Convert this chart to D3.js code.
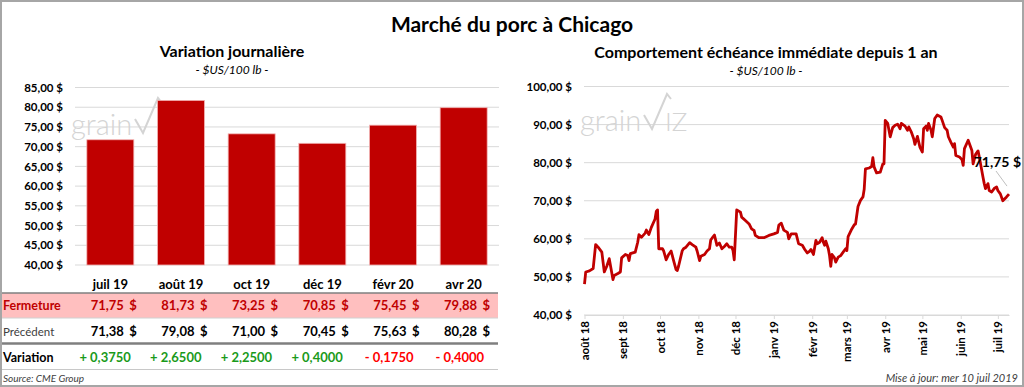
<!DOCTYPE html>
<html>
<head>
<meta charset="utf-8">
<script src="https://cdn.jsdelivr.net/npm/d3@7"></script>
<style>
  body { margin: 0; background: #fff; }
  svg { display: block; font-family: Lato, "Open Sans", sans-serif; }
</style>
</head>
<body>
<script>
// contracts (left panel)
const contracts = ["juil 19", "août 19", "oct 19", "déc 19", "févr 20", "avr 20"];
const closes = [71.75, 81.73, 73.25, 70.85, 75.45, 79.88];
const previous = [71.38, 79.08, 71.00, 70.45, 75.63, 80.28];
const changes = [0.375, 2.65, 2.25, 0.4, -0.175, -0.4];
const barTicks = [40, 45, 50, 55, 60, 65, 70, 75, 80, 85];

// nearby contract, last 12 months (right panel)
const monthLabels = ["août 18", "sept 18", "oct 18", "nov 18", "déc 18", "janv 19", "févr 19", "mars 19", "avr 19", "mai 19", "juin 19", "juil 19"];
const lineTicks = [40, 50, 60, 70, 80, 90, 100];
const histDates = [
  "2018-08-01","2018-08-02","2018-08-05","2018-08-08","2018-08-10","2018-08-12","2018-08-15","2018-08-17","2018-08-19","2018-08-21",
  "2018-08-24","2018-08-25","2018-08-28","2018-08-30","2018-08-31","2018-09-03","2018-09-05","2018-09-06","2018-09-07","2018-09-11",
  "2018-09-13","2018-09-14","2018-09-16","2018-09-19","2018-09-20","2018-09-22","2018-09-24","2018-09-27","2018-09-28","2018-09-29",
  "2018-09-30","2018-10-03","2018-10-04","2018-10-06","2018-10-08","2018-10-10","2018-10-12","2018-10-14","2018-10-15","2018-10-16",
  "2018-10-19","2018-10-20","2018-10-22","2018-10-25","2018-10-27","2018-10-30","2018-10-31","2018-11-02","2018-11-03","2018-11-06",
  "2018-11-08","2018-11-10","2018-11-11","2018-11-13","2018-11-14","2018-11-16","2018-11-18","2018-11-20","2018-11-22","2018-11-24",
  "2018-11-26","2018-11-28","2018-11-29","2018-11-30","2018-12-02","2018-12-05","2018-12-06","2018-12-09","2018-12-12","2018-12-14",
  "2018-12-16","2018-12-17","2018-12-20","2018-12-24","2018-12-28","2019-01-01","2019-01-04","2019-01-05","2019-01-07","2019-01-09",
  "2019-01-12","2019-01-13","2019-01-15","2019-01-19","2019-01-21","2019-01-24","2019-01-26","2019-01-28","2019-01-30","2019-01-31",
  "2019-02-02","2019-02-04","2019-02-05","2019-02-07","2019-02-09","2019-02-10","2019-02-11","2019-02-12","2019-02-14","2019-02-15",
  "2019-02-16","2019-02-17","2019-02-19","2019-02-20","2019-02-22","2019-02-24","2019-02-26","2019-02-28","2019-03-01","2019-03-02",
  "2019-03-05","2019-03-07","2019-03-08","2019-03-10","2019-03-12","2019-03-14","2019-03-15","2019-03-16","2019-03-19","2019-03-21",
  "2019-03-22","2019-03-23","2019-03-25","2019-03-28","2019-03-30","2019-03-31","2019-04-01","2019-04-03","2019-04-05","2019-04-07",
  "2019-04-09","2019-04-11","2019-04-13","2019-04-14","2019-04-17","2019-04-19","2019-04-20","2019-04-22","2019-04-24","2019-04-25",
  "2019-04-27","2019-04-29","2019-05-01","2019-05-02","2019-05-04","2019-05-05","2019-05-06","2019-05-08","2019-05-09","2019-05-11",
  "2019-05-13","2019-05-16","2019-05-17","2019-05-19","2019-05-21","2019-05-22","2019-05-24","2019-05-26","2019-05-27","2019-05-28",
  "2019-05-31","2019-06-02","2019-06-03","2019-06-04","2019-06-07","2019-06-09","2019-06-10","2019-06-11","2019-06-13","2019-06-15",
  "2019-06-16","2019-06-17","2019-06-19","2019-06-20","2019-06-21","2019-06-23","2019-06-24","2019-06-26","2019-06-28","2019-06-30",
  "2019-07-01","2019-07-03","2019-07-05","2019-07-08","2019-07-10"
];
const histValues = [
  48.1, 51.3, 51.6, 52.2, 58.5, 57.8, 56.5, 51.3, 52.8, 54.8,
  49.3, 50.4, 50.9, 51.3, 55.0, 55.9, 55.6, 54.3, 56.1, 56.5,
  59.1, 61.1, 60.4, 61.5, 62.3, 61.1, 63.0, 65.2, 67.2, 67.6,
  57.4, 57.4, 56.8, 54.5, 55.9, 56.8, 54.3, 51.9, 51.7, 52.8,
  56.9, 57.4, 57.8, 59.0, 58.5, 57.8, 56.8, 54.3, 55.4, 55.9,
  56.8, 57.4, 59.7, 60.6, 61.0, 58.3, 58.9, 57.4, 58.0, 58.7,
  57.8, 57.8, 56.9, 54.5, 67.6, 67.0, 65.7, 64.8, 63.9, 62.6,
  62.2, 60.9, 60.3, 60.3, 60.9, 61.3, 61.7, 63.6, 64.1, 62.3,
  61.7, 60.0, 61.3, 61.3, 58.7, 58.3, 57.2, 56.3, 56.8, 57.2,
  55.9, 59.6, 58.7, 59.1, 60.3, 59.1, 58.3, 59.4, 57.4, 55.6,
  52.8, 55.9, 55.0, 53.9, 55.2, 55.6, 56.5, 57.4, 56.9, 60.6,
  62.6, 63.7, 63.9, 68.5, 70.1, 71.0, 73.0, 78.4, 78.6, 79.0,
  81.3, 78.9, 77.3, 77.5, 79.6, 79.7, 91.1, 90.3, 86.8, 89.2,
  89.8, 90.1, 88.9, 90.3, 89.6, 88.5, 89.4, 88.1, 86.3, 84.8,
  86.9, 84.1, 82.8, 88.9, 89.6, 88.5, 90.3, 88.5, 86.8, 91.6,
  92.5, 92.0, 91.1, 89.2, 88.5, 86.8, 85.4, 84.1, 85.0, 81.9,
  81.5, 80.8, 79.3, 83.7, 85.9, 84.1, 83.2, 79.7, 82.2, 83.1,
  81.5, 79.7, 76.2, 74.5, 73.2, 74.5, 72.7, 72.3, 73.2, 73.6,
  72.7, 71.8, 70.0, 71.0, 71.75
];
const lastLabel = "71,75 $";

const width = 1024;
const height = 387;
const red = "#c00000";
const gridColor = "#d9d9d9";

const fr = d3.formatLocale({ decimal: ",", thousands: " ", grouping: [3], currency: ["", " $"] });
const money = fr.format(".2f");
const moneyTick = v => money(v) + " $";
const signed = v => (v >= 0 ? "+ " : "- ") + fr.format(".4f")(Math.abs(v));

const svg = d3.select("body").append("svg")
    .attr("width", width)
    .attr("height", height);

svg.append("rect")
    .attr("x", 1).attr("y", 1)
    .attr("width", width - 2).attr("height", height - 2)
    .attr("fill", "#fff")
    .attr("stroke", "#a6a6a6")
    .attr("stroke-width", 2);

svg.append("text")
    .attr("x", 512).attr("y", 32)
    .attr("text-anchor", "middle")
    .style("font-size", "21px").style("font-weight", "bold")
    .text("Marché du porc à Chicago");

// watermark helper
function watermark(g, x, y, withIz) {
    g.append("text")
        .attr("x", x).attr("y", y)
        .attr("fill", "#d4d4d4")
        .style("font-size", "29px")
        .style("font-weight", 300)
        .text("grain");
    g.append("path")
        .attr("d", `M${x + 64},${y - 16} L${x + 72},${y - 2} L${x + 87},${y - 37} L${x + 91},${y - 32}`)
        .attr("fill", "none")
        .attr("stroke", "#d4d4d4")
        .attr("stroke-width", 2);
    if (withIz) {
        g.append("text")
            .attr("x", x + 85).attr("y", y)
            .attr("fill", "#d4d4d4")
            .style("font-size", "26px")
            .style("font-weight", 300)
            .text("IZ");
    }
}

// ---------- left panel: bars ----------
const left = svg.append("g");

left.append("text")
    .attr("x", 232).attr("y", 57)
    .attr("text-anchor", "middle")
    .style("font-size", "16px").style("font-weight", "bold")
    .text("Variation journalière");
left.append("text")
    .attr("x", 232).attr("y", 74)
    .attr("text-anchor", "middle")
    .style("font-size", "12px").style("font-style", "italic")
    .text("- $US/100 lb -");

const xBar = d3.scaleBand()
    .domain(contracts)
    .range([75, 499])
    .paddingInner(0.335)
    .paddingOuter(0.1675);

const yBar = d3.scaleLinear()
    .domain([40, 85])
    .range([265, 87.5]);

left.append("g")
    .selectAll("line")
    .data(barTicks)
    .join("line")
    .attr("x1", 75).attr("x2", 499)
    .attr("y1", d => yBar(d)).attr("y2", d => yBar(d))
    .attr("stroke", gridColor);

const yAxisL = left.append("g")
    .attr("transform", "translate(63,0)")
    .call(d3.axisLeft(yBar).tickValues(barTicks).tickFormat(moneyTick).tickSize(0).tickPadding(0));
yAxisL.select(".domain").remove();
yAxisL.selectAll("text")
    .style("font-family", "Lato, sans-serif")
    .style("font-size", "11.5px").style("font-weight", "bold").attr("fill", "#000");

watermark(left, 71, 135, false);

left.selectAll("rect.bar")
    .data(contracts)
    .join("rect")
    .attr("class", "bar")
    .attr("x", d => xBar(d))
    .attr("y", (d, i) => yBar(closes[i]))
    .attr("width", xBar.bandwidth())
    .attr("height", (d, i) => yBar(40) - yBar(closes[i]))
    .attr("fill", red)
    .attr("stroke", "#f2b3b3")
    .attr("stroke-width", 0.8);

// ---------- left panel: table ----------
const colRight = d => xBar(d) + xBar.bandwidth();

left.selectAll("text.cat")
    .data(contracts)
    .join("text")
    .attr("class", "cat")
    .attr("x", d => xBar(d) + xBar.bandwidth() / 2)
    .attr("y", 289)
    .attr("text-anchor", "middle")
    .style("font-size", "13px").style("font-weight", "bold")
    .text(d => d);

left.append("rect")
    .attr("x", 2).attr("y", 293)
    .attr("width", 496).attr("height", 25)
    .attr("fill", "#ffbfbf");
left.append("line")
    .attr("x1", 2).attr("x2", 498).attr("y1", 293).attr("y2", 293)
    .attr("stroke", "#7f7f7f").attr("stroke-width", 1.5);
left.append("line")
    .attr("x1", 2).attr("x2", 498).attr("y1", 318).attr("y2", 318)
    .attr("stroke", "#d0d0d0").attr("stroke-width", 1);
left.append("line")
    .attr("x1", 2).attr("x2", 498).attr("y1", 343.5).attr("y2", 343.5)
    .attr("stroke", "#7f7f7f").attr("stroke-width", 2.5);
left.append("line")
    .attr("x1", 2).attr("x2", 498).attr("y1", 369.5).attr("y2", 369.5)
    .attr("stroke", "#c8c8c8").attr("stroke-width", 1);

const rows = [
    { label: "Fermeture", y: 310, values: closes, color: red, labelWeight: "bold", labelColor: red, labelSize: "12.5px" },
    { label: "Précédent", y: 336, values: previous, color: "#000", labelWeight: "normal", labelColor: "#404040", labelSize: "11.5px" }
];

rows.forEach(row => {
    left.append("text")
        .attr("x", 3).attr("y", row.y)
        .attr("fill", row.labelColor)
        .style("font-size", row.labelSize).style("font-weight", row.labelWeight)
        .text(row.label);
    left.selectAll(null)
        .data(contracts)
        .join("text")
        .attr("x", d => colRight(d) - 10)
        .attr("y", row.y)
        .attr("text-anchor", "end")
        .attr("fill", row.color)
        .style("font-size", "13px").style("font-weight", "bold")
        .text((d, i) => money(row.values[i]));
    left.selectAll(null)
        .data(contracts)
        .join("text")
        .attr("x", d => colRight(d) + 3)
        .attr("y", row.y)
        .attr("text-anchor", "end")
        .attr("fill", row.color)
        .style("font-size", "13px").style("font-weight", "bold")
        .text("$");
});

left.append("text")
    .attr("x", 3).attr("y", 362)
    .style("font-size", "12.5px").style("font-weight", "bold")
    .text("Variation");
left.selectAll("text.chg")
    .data(contracts)
    .join("text")
    .attr("class", "chg")
    .attr("x", d => colRight(d) - 3)
    .attr("y", 362)
    .attr("text-anchor", "end")
    .attr("fill", (d, i) => changes[i] >= 0 ? "#1a9a1a" : "#ff0000")
    .style("font-size", "13px").style("font-weight", "bold")
    .text((d, i) => signed(changes[i]));

left.append("text")
    .attr("x", 3).attr("y", 382)
    .attr("fill", "#404040")
    .style("font-size", "10px").style("font-style", "italic")
    .text("Source: CME Group");

// ---------- right panel: line ----------
const right = svg.append("g");

right.append("text")
    .attr("x", 766).attr("y", 58)
    .attr("text-anchor", "middle")
    .style("font-size", "16px").style("font-weight", "bold")
    .text("Comportement échéance immédiate depuis 1 an");
right.append("text")
    .attr("x", 766).attr("y", 75)
    .attr("text-anchor", "middle")
    .style("font-size", "12px").style("font-style", "italic")
    .text("- $US/100 lb -");

const parse = d3.timeParse("%Y-%m-%d");
const series = histDates.map((d, i) => ({ date: parse(d), value: histValues[i] }));

const xLine = d3.scaleTime()
    .domain([parse("2018-08-01"), parse("2019-07-10")])
    .range([584.5, 1009]);
const yLine = d3.scaleLinear()
    .domain([40, 100])
    .range([315, 86.5]);

right.append("g")
    .selectAll("line")
    .data(lineTicks)
    .join("line")
    .attr("x1", 584).attr("x2", 1009)
    .attr("y1", d => yLine(d)).attr("y2", d => yLine(d))
    .attr("stroke", gridColor);

const yAxisR = right.append("g")
    .attr("transform", "translate(572,0)")
    .call(d3.axisLeft(yLine).tickValues(lineTicks).tickFormat(moneyTick).tickSize(0).tickPadding(0));
yAxisR.select(".domain").remove();
yAxisR.selectAll("text")
    .style("font-family", "Lato, sans-serif")
    .style("font-size", "11.5px").style("font-weight", "bold").attr("fill", "#000");

const monthTicks = d3.timeMonth.range(parse("2018-08-01"), parse("2019-07-11"));
const xAxisR = right.append("g")
    .attr("transform", "translate(0,315)")
    .call(d3.axisBottom(xLine).tickValues(monthTicks).tickFormat((d, i) => monthLabels[i]).tickSize(4).tickSizeOuter(0));
xAxisR.select(".domain").attr("stroke", gridColor);
xAxisR.selectAll(".tick line").attr("stroke", gridColor);
xAxisR.selectAll("text")
    .style("font-family", "Lato, sans-serif")
    .style("font-size", "11.5px").style("font-weight", "bold").attr("fill", "#000")
    .attr("text-anchor", "end")
    .attr("transform", "rotate(-90)")
    .attr("x", -6).attr("y", 0).attr("dy", "0.35em");

watermark(right, 580, 131, true);

right.append("path")
    .datum(series)
    .attr("fill", "none")
    .attr("stroke", red)
    .attr("stroke-width", 2.8)
    .attr("stroke-linejoin", "round")
    .attr("d", d3.line().x(d => xLine(d.date)).y(d => yLine(d.value)));

const last = series[series.length - 1];
right.append("line")
    .attr("x1", xLine(last.date) - 13).attr("y1", 171)
    .attr("x2", xLine(last.date) - 2).attr("y2", yLine(last.value) - 8)
    .attr("stroke", "#bfbfbf").attr("stroke-width", 1);
right.append("text")
    .attr("x", 1021).attr("y", 167)
    .attr("text-anchor", "end")
    .style("font-size", "14px").style("font-weight", "bold")
    .text(lastLabel);

right.append("text")
    .attr("x", 1018).attr("y", 382)
    .attr("text-anchor", "end")
    .attr("fill", "#404040")
    .style("font-size", "11px").style("font-style", "italic")
    .text("Mise à jour: mer 10 juil 2019");
</script>
</body>
</html>
